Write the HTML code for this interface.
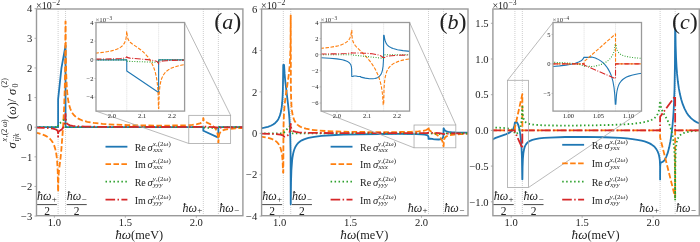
<!DOCTYPE html>
<html><head><meta charset="utf-8"><title>SHG conductivity</title>
<style>html,body{margin:0;padding:0;background:#fff;overflow:hidden}svg{display:block;filter:blur(0.3px)}text{font-family:"Liberation Serif",serif;fill:#222}</style>
</head><body>
<svg xmlns="http://www.w3.org/2000/svg" width="700" height="242" viewBox="0 0 700 242" font-family="Liberation Serif, serif"><clipPath id="clipa"><rect x="36.5" y="9" width="206.4" height="206.7"/></clipPath>
<line x1="58.12" y1="9" x2="58.12" y2="215.7" stroke="#c2c2c2" stroke-width="0.9" stroke-dasharray="0.9,1.1"/>
<line x1="65.54" y1="9" x2="65.54" y2="215.7" stroke="#c2c2c2" stroke-width="0.9" stroke-dasharray="0.9,1.1"/>
<line x1="203.32" y1="9" x2="203.32" y2="215.7" stroke="#c2c2c2" stroke-width="0.9" stroke-dasharray="0.9,1.1"/>
<line x1="218.37" y1="9" x2="218.37" y2="215.7" stroke="#c2c2c2" stroke-width="0.9" stroke-dasharray="0.9,1.1"/>
<path d="M35.08 127.2L58.11 127.2L58.12 99.05L61.46 67.91L65.54 45.73L65.54 127.2L203.31 127.2L203.32 130.76L218.35 137.56L218.37 127.2L244.32 127.2" fill="none" stroke="#1f77b4" stroke-width="1.8"  stroke-linecap="butt" stroke-linejoin="round" clip-path="url(#clipa)"/>
<path d="M35.08 132.53L38.99 133.39L42.34 134.4L45.27 135.62L47.64 136.99L49.74 138.65L51.41 140.49L52.95 142.85L54.13 145.39L55.18 148.6L56.02 152.3L56.64 156.24L57.14 160.93L57.75 171.93L58.07 191.78L58.17 191.79L58.34 181.08L58.67 174.24L59.1 169.66L60.63 157.25L61.32 150.03L63.11 126.54L64.11 108L64.71 90.86L65.09 72.37L65.47 21.42L65.61 21.42L65.62 21.65L65.8 52.16L66.19 73.08L66.8 86.87L67.19 92.03L67.74 97.23L68.41 101.55L69.21 105.26L70.12 108.27L71.23 110.97L72.49 113.19L74.03 115.19L75.84 116.92L77.93 118.38L79.89 119.41L81.98 120.28L84.49 121.09L87.29 121.8L93.99 122.98L102.5 123.89L113.81 124.62L128.04 125.14L145.77 125.48L164.34 125.59L176.48 125.49L185.69 125.23L192.39 124.8L197 124.18L199.94 123.38L201.05 122.85L201.89 122.23L202.44 121.58L202.86 120.75L203.14 119.64L203.27 118.18L203.38 118.16L203.69 120.12L204.03 120.79L204.48 121.28L205.65 122.02L209.98 124.06L212.07 125.34L214.17 127.13L215.84 129.28L216.96 131.62L217.72 134.53L218.1 137.75L218.31 142.61L218.43 142.61L218.73 137.15L219.33 134.25L219.85 133.07L220.45 132.19L221.23 131.41L222.26 130.72L223.52 130.14L225.2 129.62L229.38 128.86L235.53 128.31L244.32 127.94" fill="none" stroke="#ff7f0e" stroke-width="1.8" stroke-dasharray="5.55,2.4" stroke-linecap="butt" stroke-linejoin="round" clip-path="url(#clipa)"/>
<path d="M35.08 127.2L58.11 127.2L58.12 124.83L65.53 118.32L65.54 127.2L203.31 127.2L203.32 127.64L218.35 128L218.37 127.2L244.32 127.2" fill="none" stroke="#2ca02c" stroke-width="1.8" stroke-dasharray="1.5,2.47" stroke-linecap="butt" stroke-linejoin="round" clip-path="url(#clipa)"/>
<path d="M35.08 127.67L43.46 127.89L49.18 128.2L53.09 128.67L55.6 129.33L56.44 129.74L57.05 130.2L57.52 130.78L57.81 131.41L58.07 133.03L58.12 136.68L58.17 133.09L58.45 131.84L58.99 131.27L61.23 129.78L62.42 128.62L63.56 126.96L64.39 124.99L64.89 123.05L65.23 120.66L65.51 113.87L65.71 118.38L65.97 120.68L66.44 122.41L67.19 123.64L68.41 124.62L70.12 125.29L72.65 125.81L76.26 126.19L84.91 126.58L99.15 126.81L159.73 127.01L196.72 126.88L201.84 126.68L202.82 126.52L203.39 126.22L203.79 126.49L204.82 126.66L213.19 127.14L216.4 127.46L217.86 127.84L218.18 128.11L218.33 128.5L218.65 128.03L219.19 127.77L222.04 127.46L229.24 127.3L244.32 127.22" fill="none" stroke="#d62728" stroke-width="1.8" stroke-dasharray="9.6,2.4,1.5,2.4" stroke-linecap="butt" stroke-linejoin="round" clip-path="url(#clipa)"/>
<rect x="36.5" y="9" width="206.4" height="206.7" fill="none" stroke="#9a9a9a" stroke-width="1.4"/>
<line x1="34.5" y1="8.68" x2="36.5" y2="8.68" stroke="#9a9a9a" stroke-width="0.8"/>
<text x="32.2" y="12.38" font-size="10.6" text-anchor="end" style="" >4</text>
<line x1="34.5" y1="38.31" x2="36.5" y2="38.31" stroke="#9a9a9a" stroke-width="0.8"/>
<text x="32.2" y="42.01" font-size="10.6" text-anchor="end" style="" >3</text>
<line x1="34.5" y1="67.94" x2="36.5" y2="67.94" stroke="#9a9a9a" stroke-width="0.8"/>
<text x="32.2" y="71.64" font-size="10.6" text-anchor="end" style="" >2</text>
<line x1="34.5" y1="97.57" x2="36.5" y2="97.57" stroke="#9a9a9a" stroke-width="0.8"/>
<text x="32.2" y="101.27" font-size="10.6" text-anchor="end" style="" >1</text>
<line x1="34.5" y1="127.2" x2="36.5" y2="127.2" stroke="#9a9a9a" stroke-width="0.8"/>
<text x="32.2" y="130.9" font-size="10.6" text-anchor="end" style="" >0</text>
<line x1="34.5" y1="156.83" x2="36.5" y2="156.83" stroke="#9a9a9a" stroke-width="0.8"/>
<text x="32.2" y="160.53" font-size="10.6" text-anchor="end" style="" >&#8722;1</text>
<line x1="34.5" y1="186.46" x2="36.5" y2="186.46" stroke="#9a9a9a" stroke-width="0.8"/>
<text x="32.2" y="190.16" font-size="10.6" text-anchor="end" style="" >&#8722;2</text>
<line x1="34.5" y1="216.09" x2="36.5" y2="216.09" stroke="#9a9a9a" stroke-width="0.8"/>
<text x="32.2" y="219.79" font-size="10.6" text-anchor="end" style="" >&#8722;3</text>
<line x1="54.4" y1="215.7" x2="54.4" y2="217.7" stroke="#9a9a9a" stroke-width="0.8"/>
<text x="54.4" y="225.9" font-size="10.6" text-anchor="middle" style="" >1.0</text>
<line x1="125.35" y1="215.7" x2="125.35" y2="217.7" stroke="#9a9a9a" stroke-width="0.8"/>
<text x="125.35" y="225.9" font-size="10.6" text-anchor="middle" style="" >1.5</text>
<line x1="196.3" y1="215.7" x2="196.3" y2="217.7" stroke="#9a9a9a" stroke-width="0.8"/>
<text x="196.3" y="225.9" font-size="10.6" text-anchor="middle" style="" >2.0</text>
<text x="36" y="8.8" font-size="10" style="">&#215;10<tspan font-size="7.6" dy="-3.8" dx="0.4">&#8722;2</tspan></text>
<text x="139.2" y="238.5" font-size="12.3" text-anchor="middle"><tspan font-style="italic" font-size="13.2">&#295;&#969;</tspan>(meV)</text>
<text x="241.3" y="29.0" font-size="24" text-anchor="end">(<tspan font-style="italic" font-size="22">a</tspan>)</text>
<text x="47.01" y="200.4" font-size="11.5" text-anchor="middle"><tspan font-style="italic" font-size="12">&#295;&#969;</tspan><tspan font-size="9" dy="1.9" dx="0.3">+</tspan></text>
<line x1="37.1" y1="204.6" x2="56.92" y2="204.6" stroke="#333" stroke-width="0.9"/>
<text x="47.01" y="214.6" font-size="11.5" text-anchor="middle" style="" >2</text>
<text x="76.74" y="200.4" font-size="11.5" text-anchor="middle"><tspan font-style="italic" font-size="12">&#295;&#969;</tspan><tspan font-size="9" dy="1.9" dx="0.3">&#8722;</tspan></text>
<line x1="66.74" y1="204.6" x2="86.74" y2="204.6" stroke="#333" stroke-width="0.9"/>
<text x="76.74" y="214.6" font-size="11.5" text-anchor="middle" style="" >2</text>
<text x="202.32" y="211.5" font-size="11.5" text-anchor="end"><tspan font-style="italic" font-size="12">&#295;&#969;</tspan><tspan font-size="9" dy="1.9" dx="0.3">+</tspan></text>
<text x="219.17" y="211.5" font-size="11.5" text-anchor="start"><tspan font-style="italic" font-size="12">&#295;&#969;</tspan><tspan font-size="9" dy="1.9" dx="0.3">&#8722;</tspan></text>
<clipPath id="iclipa"><rect x="96" y="22.5" width="88.6" height="88.6"/></clipPath>
<rect x="188.79" y="115.34" width="41.84" height="28.14" fill="none" stroke="#a8a8a8" stroke-width="0.8"/>
<line x1="184.6" y1="22.5" x2="230.63" y2="115.34" stroke="#a8a8a8" stroke-width="0.8"/>
<line x1="96" y1="111.1" x2="188.79" y2="143.48" stroke="#a8a8a8" stroke-width="0.8"/>
<rect x="96" y="22.5" width="88.6" height="88.6" fill="#fff" stroke="none"/>
<line x1="126.77" y1="22.5" x2="126.77" y2="111.1" stroke="#c2c2c2" stroke-width="0.7" stroke-dasharray="0.8,1.2"/>
<line x1="158.63" y1="22.5" x2="158.63" y2="111.1" stroke="#c2c2c2" stroke-width="0.7" stroke-dasharray="0.8,1.2"/>
<path d="M95.4 59.85L126.76 59.85L126.77 71.05L158.62 92.5L158.63 59.85L185.2 59.85" fill="none" stroke="#1f77b4" stroke-width="1.1"  stroke-linecap="butt" stroke-linejoin="round" clip-path="url(#iclipa)"/>
<path d="M95.4 53.19L104.33 52.19L108.04 51.58L111.33 50.89L114.21 50.1L116.67 49.24L118.82 48.26L120.68 47.15L122.18 45.95L123.38 44.67L124.39 43.17L125.15 41.58L125.71 39.87L126.12 37.96L126.46 35.11L126.66 31.44L126.89 31.39L127.11 34.85L127.51 37.41L128.15 39.39L129.13 41.07L130.21 42.28L131.7 43.54L137.99 47.81L140.87 49.95L143.15 51.89L145.24 53.94L147.64 56.69L149.8 59.7L151.65 62.89L153.27 66.37L154.53 69.8L155.61 73.6L156.51 77.85L157.16 82.2L157.7 87.42L158.06 92.87L158.5 108.37L158.76 108.37L159.14 95.17L159.5 89.99L159.98 85.85L160.58 82.49L161.36 79.54L162.26 77.14L163.39 74.95L164.83 72.95L166.57 71.2L168.61 69.68L171 68.35L173.82 67.19L177.05 66.18L180.83 65.3L185.2 64.52" fill="none" stroke="#ff7f0e" stroke-width="1.1" stroke-dasharray="3.52,1.52" stroke-linecap="butt" stroke-linejoin="round" clip-path="url(#iclipa)"/>
<path d="M95.4 59.85L126.76 59.85L126.77 61.25L158.62 62.37L158.63 59.85L185.2 59.85" fill="none" stroke="#2ca02c" stroke-width="1.1" stroke-dasharray="0.95,1.57" stroke-linecap="butt" stroke-linejoin="round" clip-path="url(#iclipa)"/>
<path d="M95.4 59.09L111.63 58.87L120.86 58.49L123.44 58.23L125.15 57.9L126.06 57.52L126.43 57.19L126.64 56.77L126.91 56.77L127.21 57.27L127.75 57.62L130.03 58.15L147.58 59.64L151.53 60.12L154.41 60.64L156.33 61.2L157.55 61.87L158.23 62.71L158.54 63.96L158.71 63.96L159.1 62.64L159.74 61.99L161 61.44L163.04 61.02L166.21 60.69L170.7 60.44L185.2 60.11" fill="none" stroke="#d62728" stroke-width="1.1" stroke-dasharray="6.08,1.52,0.95,1.52" stroke-linecap="butt" stroke-linejoin="round" clip-path="url(#iclipa)"/>
<rect x="96" y="22.5" width="88.6" height="88.6" fill="none" stroke="#9a9a9a" stroke-width="1.3"/>
<line x1="94.5" y1="22.53" x2="96" y2="22.53" stroke="#9a9a9a" stroke-width="0.6"/>
<text x="93.5" y="24.83" font-size="6.5" text-anchor="end" style="" >4</text>
<line x1="94.5" y1="41.19" x2="96" y2="41.19" stroke="#9a9a9a" stroke-width="0.6"/>
<text x="93.5" y="43.49" font-size="6.5" text-anchor="end" style="" >2</text>
<line x1="94.5" y1="59.85" x2="96" y2="59.85" stroke="#9a9a9a" stroke-width="0.6"/>
<text x="93.5" y="62.15" font-size="6.5" text-anchor="end" style="" >0</text>
<line x1="94.5" y1="78.51" x2="96" y2="78.51" stroke="#9a9a9a" stroke-width="0.6"/>
<text x="93.5" y="80.81" font-size="6.5" text-anchor="end" style="" >&#8722;2</text>
<line x1="94.5" y1="97.17" x2="96" y2="97.17" stroke="#9a9a9a" stroke-width="0.6"/>
<text x="93.5" y="99.47" font-size="6.5" text-anchor="end" style="" >&#8722;4</text>
<line x1="111.9" y1="111.1" x2="111.9" y2="112.6" stroke="#9a9a9a" stroke-width="0.6"/>
<text x="111.9" y="118.4" font-size="6.5" text-anchor="middle" style="" >2.0</text>
<line x1="141.95" y1="111.1" x2="141.95" y2="112.6" stroke="#9a9a9a" stroke-width="0.6"/>
<text x="141.95" y="118.4" font-size="6.5" text-anchor="middle" style="" >2.1</text>
<line x1="172" y1="111.1" x2="172" y2="112.6" stroke="#9a9a9a" stroke-width="0.6"/>
<text x="172" y="118.4" font-size="6.5" text-anchor="middle" style="" >2.2</text>
<text x="95.4" y="22.2" font-size="6.9" style="fill:#333">&#215;10<tspan font-size="5.2" dy="-2.5" dx="0.3">&#8722;3</tspan></text>
<line x1="105.5" y1="146.7" x2="127.4" y2="146.7" stroke="#1f77b4" stroke-width="1.8"  stroke-linecap="butt"/>
<text x="134.7" y="150.6" font-size="10">Re<tspan dx="1.8" font-style="italic" font-size="10.5">&#963;</tspan><tspan font-size="7" dy="-5.1" font-style="italic">x</tspan><tspan font-size="7" font-style="normal" dy="0">,(2</tspan><tspan font-size="7" font-style="italic">&#969;</tspan><tspan font-size="7">)</tspan></text>
<text x="153.2" y="151.9" font-size="7" font-style="italic">xxx</text>
<line x1="105.5" y1="164.2" x2="127.4" y2="164.2" stroke="#ff7f0e" stroke-width="1.8" stroke-dasharray="5.55,2.4" stroke-linecap="butt"/>
<text x="134.7" y="168.1" font-size="10">Im<tspan dx="1.8" font-style="italic" font-size="10.5">&#963;</tspan><tspan font-size="7" dy="-5.1" font-style="italic">x</tspan><tspan font-size="7" font-style="normal" dy="0">,(2</tspan><tspan font-size="7" font-style="italic">&#969;</tspan><tspan font-size="7">)</tspan></text>
<text x="153.2" y="169.4" font-size="7" font-style="italic">xxx</text>
<line x1="105.5" y1="181.7" x2="127.4" y2="181.7" stroke="#2ca02c" stroke-width="1.8" stroke-dasharray="1.5,2.47" stroke-linecap="butt"/>
<text x="134.7" y="185.6" font-size="10">Re<tspan dx="1.8" font-style="italic" font-size="10.5">&#963;</tspan><tspan font-size="7" dy="-5.1" font-style="italic">y</tspan><tspan font-size="7" font-style="normal" dy="0">,(2</tspan><tspan font-size="7" font-style="italic">&#969;</tspan><tspan font-size="7">)</tspan></text>
<text x="153.2" y="186.9" font-size="7" font-style="italic">yyy</text>
<line x1="105.5" y1="199.7" x2="127.4" y2="199.7" stroke="#d62728" stroke-width="1.8" stroke-dasharray="9.6,2.4,1.5,2.4" stroke-linecap="butt"/>
<text x="134.7" y="203.6" font-size="10">Im<tspan dx="1.8" font-style="italic" font-size="10.5">&#963;</tspan><tspan font-size="7" dy="-5.1" font-style="italic">y</tspan><tspan font-size="7" font-style="normal" dy="0">,(2</tspan><tspan font-size="7" font-style="italic">&#969;</tspan><tspan font-size="7">)</tspan></text>
<text x="153.2" y="204.9" font-size="7" font-style="italic">yyy</text>
<clipPath id="clipb"><rect x="261.6" y="9" width="206.4" height="206.7"/></clipPath>
<line x1="283.32" y1="9" x2="283.32" y2="215.7" stroke="#c2c2c2" stroke-width="0.9" stroke-dasharray="0.9,1.1"/>
<line x1="290.74" y1="9" x2="290.74" y2="215.7" stroke="#c2c2c2" stroke-width="0.9" stroke-dasharray="0.9,1.1"/>
<line x1="428.52" y1="9" x2="428.52" y2="215.7" stroke="#c2c2c2" stroke-width="0.9" stroke-dasharray="0.9,1.1"/>
<line x1="443.57" y1="9" x2="443.57" y2="215.7" stroke="#c2c2c2" stroke-width="0.9" stroke-dasharray="0.9,1.1"/>
<path d="M260.18 128.52L264.37 127.74L267.86 126.83L270.79 125.74L273.16 124.51L275.26 122.97L276.93 121.21L278.33 119.14L279.58 116.43L280.42 113.84L281.12 110.8L281.71 107.14L282.24 102.19L282.65 95.75L282.93 88.26L283.25 64.99L284.08 64.99L284.61 73.63L285.31 81.54L288.02 104.02L288.87 111.98L289.48 119.5L289.91 126.83L290.33 138.48L290.58 153.28L290.73 204.3L291.02 182.31L291.39 170.52L292.1 160.58L292.56 156.97L293.12 153.84L293.82 151.01L294.66 148.56L295.64 146.46L296.89 144.49L298.29 142.9L299.96 141.49L301.78 140.35L304.01 139.31L306.1 138.56L308.48 137.9L314.2 136.79L321.6 135.91L330.95 135.23L343.37 134.69L359.15 134.29L379.11 134.02L399.21 133.94L415.96 134.13L421.12 134.35L424.61 134.69L426.85 135.17L427.54 135.47L428.02 135.84L428.28 136.24L428.44 136.8L428.52 138.89L429.89 138.76L432.71 138.89L432.85 139.08L434.94 139.34L438.57 139.5L440.25 139.3L441.5 138.89L442.41 138.23L442.97 137.38L443.3 136.26L443.48 134.78L443.56 128.31L443.79 128.31L444.03 129.21L444.4 129.93L445.13 130.67L446.43 131.31L448.48 131.8L451.41 132.16L455.6 132.42L469.42 132.73" fill="none" stroke="#1f77b4" stroke-width="1.8"  stroke-linecap="butt" stroke-linejoin="round" clip-path="url(#clipb)"/>
<path d="M260.18 136.5L263.95 137.03L267.16 137.64L269.95 138.36L272.32 139.21L274.42 140.24L276.09 141.38L277.49 142.69L278.75 144.32L279.72 146.09L280.56 148.2L281.26 150.7L281.82 153.61L282.25 156.92L282.61 161.1L283.08 172.54L283.31 172.63L283.44 133.69L283.63 123.2L283.91 115.39L284.38 107.91L285.03 101.24L285.86 94.72L288.52 76.76L289.26 70.26L289.84 63.19L290.27 54.53L290.52 45.32L290.72 15.31L290.84 82.8L291.07 96.91L291.5 105.89L291.9 110.15L292.43 113.83L292.98 116.45L293.82 119.16L294.8 121.31L295.91 123.04L297.31 124.59L298.99 125.9L300.38 126.71L302.06 127.48L305.96 128.7L310.99 129.67L317.55 130.44L325.79 131.03L336.39 131.48L349.79 131.81L365.99 132.02L384.27 132.1L399.91 132.02L410.93 131.79L418.47 131.4L423.22 130.83L424.85 130.47L426.15 130.02L427.12 129.48L427.76 128.87L428.19 128.07L428.42 127.03L428.54 127.03L428.79 129.24L429.08 129.89L429.59 130.49L430.75 131.31L434.8 133.51L437.04 134.91L439.13 136.58L440.7 138.26L441.82 139.96L442.58 141.77L443.06 143.65L443.38 146.13L443.6 146.13L443.81 141.62L444.33 139.01L444.72 138.13L445.31 137.3L446.11 136.6L447.09 136.04L448.34 135.55L449.88 135.15L454.2 134.51L460.49 134.08L469.42 133.78" fill="none" stroke="#ff7f0e" stroke-width="1.8" stroke-dasharray="5.55,2.4" stroke-linecap="butt" stroke-linejoin="round" clip-path="url(#clipb)"/>
<path d="M260.18 133.3L283.31 133.3L290.73 125.03L290.74 133.3L428.51 133.3L443.55 134.23L443.57 133.3L469.42 133.3" fill="none" stroke="#2ca02c" stroke-width="1.8" stroke-dasharray="1.5,2.47" stroke-linecap="butt" stroke-linejoin="round" clip-path="url(#clipb)"/>
<path d="M260.18 133.64L271.77 133.89L278.33 134.31L280.56 134.64L282.06 135.06L282.89 135.48L283.58 136.23L284.22 136.55L285.03 136.65L285.86 136.51L286.98 135.95L287.96 135.08L288.8 133.9L289.48 132.44L289.97 130.81L290.31 128.99L290.67 123.99L290.82 123.99L291.02 126.89L291.39 128.7L292 129.96L292.8 130.78L294.1 131.46L295.91 131.94L298.57 132.31L302.2 132.57L309.45 132.82L320.62 132.98L363.47 133.14L418.19 133.1L426.85 132.98L428.3 132.89L428.52 132.73L428.73 132.85L434.52 132.9L439.27 133.16L441.92 133.52L443.2 134.02L444.03 134.02L445.83 133.65L449.32 133.48L469.42 133.32" fill="none" stroke="#d62728" stroke-width="1.8" stroke-dasharray="9.6,2.4,1.5,2.4" stroke-linecap="butt" stroke-linejoin="round" clip-path="url(#clipb)"/>
<rect x="261.6" y="9" width="206.4" height="206.7" fill="none" stroke="#9a9a9a" stroke-width="1.4"/>
<line x1="259.6" y1="9.1" x2="261.6" y2="9.1" stroke="#9a9a9a" stroke-width="0.8"/>
<text x="257.3" y="12.8" font-size="10.6" text-anchor="end" style="" >6</text>
<line x1="259.6" y1="50.5" x2="261.6" y2="50.5" stroke="#9a9a9a" stroke-width="0.8"/>
<text x="257.3" y="54.2" font-size="10.6" text-anchor="end" style="" >4</text>
<line x1="259.6" y1="91.9" x2="261.6" y2="91.9" stroke="#9a9a9a" stroke-width="0.8"/>
<text x="257.3" y="95.6" font-size="10.6" text-anchor="end" style="" >2</text>
<line x1="259.6" y1="133.3" x2="261.6" y2="133.3" stroke="#9a9a9a" stroke-width="0.8"/>
<text x="257.3" y="137" font-size="10.6" text-anchor="end" style="" >0</text>
<line x1="259.6" y1="174.7" x2="261.6" y2="174.7" stroke="#9a9a9a" stroke-width="0.8"/>
<text x="257.3" y="178.4" font-size="10.6" text-anchor="end" style="" >&#8722;2</text>
<line x1="259.6" y1="216.1" x2="261.6" y2="216.1" stroke="#9a9a9a" stroke-width="0.8"/>
<text x="257.3" y="219.8" font-size="10.6" text-anchor="end" style="" >&#8722;4</text>
<line x1="279.6" y1="215.7" x2="279.6" y2="217.7" stroke="#9a9a9a" stroke-width="0.8"/>
<text x="279.6" y="225.9" font-size="10.6" text-anchor="middle" style="" >1.0</text>
<line x1="350.55" y1="215.7" x2="350.55" y2="217.7" stroke="#9a9a9a" stroke-width="0.8"/>
<text x="350.55" y="225.9" font-size="10.6" text-anchor="middle" style="" >1.5</text>
<line x1="421.5" y1="215.7" x2="421.5" y2="217.7" stroke="#9a9a9a" stroke-width="0.8"/>
<text x="421.5" y="225.9" font-size="10.6" text-anchor="middle" style="" >2.0</text>
<text x="261.1" y="8.8" font-size="10" style="">&#215;10<tspan font-size="7.6" dy="-3.8" dx="0.4">&#8722;2</tspan></text>
<text x="364.3" y="238.5" font-size="12.3" text-anchor="middle"><tspan font-style="italic" font-size="13.2">&#295;&#969;</tspan>(meV)</text>
<text x="466.4" y="29.0" font-size="24" text-anchor="end">(<tspan font-style="italic" font-size="22">b</tspan>)</text>
<text x="272.16" y="200.4" font-size="11.5" text-anchor="middle"><tspan font-style="italic" font-size="12">&#295;&#969;</tspan><tspan font-size="9" dy="1.9" dx="0.3">+</tspan></text>
<line x1="262.2" y1="204.6" x2="282.12" y2="204.6" stroke="#333" stroke-width="0.9"/>
<text x="272.16" y="214.6" font-size="11.5" text-anchor="middle" style="" >2</text>
<text x="301.94" y="200.4" font-size="11.5" text-anchor="middle"><tspan font-style="italic" font-size="12">&#295;&#969;</tspan><tspan font-size="9" dy="1.9" dx="0.3">&#8722;</tspan></text>
<line x1="291.94" y1="204.6" x2="311.94" y2="204.6" stroke="#333" stroke-width="0.9"/>
<text x="301.94" y="214.6" font-size="11.5" text-anchor="middle" style="" >2</text>
<text x="427.52" y="211.5" font-size="11.5" text-anchor="end"><tspan font-style="italic" font-size="12">&#295;&#969;</tspan><tspan font-size="9" dy="1.9" dx="0.3">+</tspan></text>
<text x="444.37" y="211.5" font-size="11.5" text-anchor="start"><tspan font-style="italic" font-size="12">&#295;&#969;</tspan><tspan font-size="9" dy="1.9" dx="0.3">&#8722;</tspan></text>
<clipPath id="iclipb"><rect x="321.1" y="22.5" width="88.5" height="88.6"/></clipPath>
<rect x="414.04" y="125.02" width="41.79" height="22.78" fill="none" stroke="#a8a8a8" stroke-width="0.8"/>
<line x1="409.6" y1="22.5" x2="455.83" y2="125.02" stroke="#a8a8a8" stroke-width="0.8"/>
<line x1="321.1" y1="111.1" x2="414.04" y2="147.8" stroke="#a8a8a8" stroke-width="0.8"/>
<rect x="321.1" y="22.5" width="88.5" height="88.6" fill="#fff" stroke="none"/>
<line x1="351.77" y1="22.5" x2="351.77" y2="111.1" stroke="#c2c2c2" stroke-width="0.7" stroke-dasharray="0.8,1.2"/>
<line x1="383.63" y1="22.5" x2="383.63" y2="111.1" stroke="#c2c2c2" stroke-width="0.7" stroke-dasharray="0.8,1.2"/>
<path d="M320.5 57.7L329.71 58.2L336.9 58.9L342.34 59.81L344.5 60.37L346.29 60.99L348.03 61.84L349.34 62.8L350.36 63.99L351.02 65.32L351.41 66.81L351.64 68.79L351.77 76.44L352.94 76.44L353.65 76.06L354.67 75.93L356.04 76.05L357.96 76.44L360.77 76.44L360.83 77.15L365.26 78.16L369.45 78.77L372.92 78.81L374.77 78.57L376.45 78.1L377.89 77.43L379.14 76.53L380.16 75.47L381.06 74.1L381.78 72.51L382.36 70.58L383.07 66.23L383.44 60.45L383.59 51.97L383.63 35.3L384.11 35.3L384.83 39.76L385.39 41.6L386.08 43.13L386.8 44.29L387.7 45.35L388.72 46.26L389.91 47.09L391.41 47.87L393.15 48.57L397.45 49.74L403.02 50.65L410.2 51.36" fill="none" stroke="#1f77b4" stroke-width="1.1"  stroke-linecap="butt" stroke-linejoin="round" clip-path="url(#iclipb)"/>
<path d="M320.5 48.4L329 47.5L335.76 46.35L338.57 45.67L341.02 44.91L343.12 44.09L344.97 43.15L346.47 42.16L347.75 41.06L348.8 39.85L349.7 38.44L350.3 37.12L350.79 35.59L351.26 33.2L351.55 30.31L351.81 30.31L351.98 35.55L352.33 38.92L352.99 41.57L354.01 43.74L355.03 45.24L356.4 46.87L365.08 55.52L367.65 58.37L369.93 61.14L372.26 64.35L374.3 67.55L376.09 70.84L377.65 74.19L378.84 77.27L379.86 80.4L380.74 83.7L381.48 87.22L382.08 90.93L382.55 94.96L383.21 104.61L383.7 104.61L384.03 89.31L384.34 84.08L384.79 79.71L385.31 76.6L386.03 73.66L386.86 71.3L387.94 69.13L389.38 67.08L391.05 65.37L393.09 63.86L395.54 62.52L398.41 61.37L401.76 60.37L405.65 59.51L410.2 58.76" fill="none" stroke="#ff7f0e" stroke-width="1.1" stroke-dasharray="3.52,1.52" stroke-linecap="butt" stroke-linejoin="round" clip-path="url(#iclipb)"/>
<path d="M320.5 54.7L351.76 54.7L351.77 54.94L383.62 58.32L383.63 54.7L410.2 54.7" fill="none" stroke="#2ca02c" stroke-width="1.1" stroke-dasharray="0.95,1.57" stroke-linecap="butt" stroke-linejoin="round" clip-path="url(#iclipb)"/>
<path d="M320.5 54.01L336.72 53.83L346.59 53.54L351.08 53.15L351.68 52.93L351.77 52.47L351.84 52.86L352.27 52.96L359.04 52.97L364.9 53.18L372.08 53.8L377.53 54.74L379.5 55.31L381 55.94L382.08 56.65L382.85 57.52L384.62 57.52L385.55 56.87L386.86 56.39L388.78 56L391.35 55.69L398.59 55.28L410.2 55.01" fill="none" stroke="#d62728" stroke-width="1.1" stroke-dasharray="6.08,1.52,0.95,1.52" stroke-linecap="butt" stroke-linejoin="round" clip-path="url(#iclipb)"/>
<rect x="321.1" y="22.5" width="88.5" height="88.6" fill="none" stroke="#9a9a9a" stroke-width="1.3"/>
<line x1="319.6" y1="22.5" x2="321.1" y2="22.5" stroke="#9a9a9a" stroke-width="0.6"/>
<text x="318.6" y="24.8" font-size="6.5" text-anchor="end" style="" >4</text>
<line x1="319.6" y1="38.6" x2="321.1" y2="38.6" stroke="#9a9a9a" stroke-width="0.6"/>
<text x="318.6" y="40.9" font-size="6.5" text-anchor="end" style="" >2</text>
<line x1="319.6" y1="54.7" x2="321.1" y2="54.7" stroke="#9a9a9a" stroke-width="0.6"/>
<text x="318.6" y="57" font-size="6.5" text-anchor="end" style="" >0</text>
<line x1="319.6" y1="70.8" x2="321.1" y2="70.8" stroke="#9a9a9a" stroke-width="0.6"/>
<text x="318.6" y="73.1" font-size="6.5" text-anchor="end" style="" >&#8722;2</text>
<line x1="319.6" y1="86.9" x2="321.1" y2="86.9" stroke="#9a9a9a" stroke-width="0.6"/>
<text x="318.6" y="89.2" font-size="6.5" text-anchor="end" style="" >&#8722;4</text>
<line x1="319.6" y1="103" x2="321.1" y2="103" stroke="#9a9a9a" stroke-width="0.6"/>
<text x="318.6" y="105.3" font-size="6.5" text-anchor="end" style="" >&#8722;6</text>
<line x1="336.9" y1="111.1" x2="336.9" y2="112.6" stroke="#9a9a9a" stroke-width="0.6"/>
<text x="336.9" y="118.4" font-size="6.5" text-anchor="middle" style="" >2.0</text>
<line x1="366.95" y1="111.1" x2="366.95" y2="112.6" stroke="#9a9a9a" stroke-width="0.6"/>
<text x="366.95" y="118.4" font-size="6.5" text-anchor="middle" style="" >2.1</text>
<line x1="397" y1="111.1" x2="397" y2="112.6" stroke="#9a9a9a" stroke-width="0.6"/>
<text x="397" y="118.4" font-size="6.5" text-anchor="middle" style="" >2.2</text>
<text x="320.5" y="22.2" font-size="6.9" style="fill:#333">&#215;10<tspan font-size="5.2" dy="-2.5" dx="0.3">&#8722;3</tspan></text>
<line x1="330.6" y1="146.7" x2="352.5" y2="146.7" stroke="#1f77b4" stroke-width="1.8"  stroke-linecap="butt"/>
<text x="360" y="150.6" font-size="10">Re<tspan dx="1.8" font-style="italic" font-size="10.5">&#963;</tspan><tspan font-size="7" dy="-5.1" font-style="italic">y</tspan><tspan font-size="7" font-style="normal" dy="0">,(2</tspan><tspan font-size="7" font-style="italic">&#969;</tspan><tspan font-size="7">)</tspan></text>
<text x="378.5" y="151.9" font-size="7" font-style="italic">xxx</text>
<line x1="330.6" y1="164.2" x2="352.5" y2="164.2" stroke="#ff7f0e" stroke-width="1.8" stroke-dasharray="5.55,2.4" stroke-linecap="butt"/>
<text x="360" y="168.1" font-size="10">Im<tspan dx="1.8" font-style="italic" font-size="10.5">&#963;</tspan><tspan font-size="7" dy="-5.1" font-style="italic">y</tspan><tspan font-size="7" font-style="normal" dy="0">,(2</tspan><tspan font-size="7" font-style="italic">&#969;</tspan><tspan font-size="7">)</tspan></text>
<text x="378.5" y="169.4" font-size="7" font-style="italic">xxx</text>
<line x1="330.6" y1="181.7" x2="352.5" y2="181.7" stroke="#2ca02c" stroke-width="1.8" stroke-dasharray="1.5,2.47" stroke-linecap="butt"/>
<text x="360" y="185.6" font-size="10">Re<tspan dx="1.8" font-style="italic" font-size="10.5">&#963;</tspan><tspan font-size="7" dy="-5.1" font-style="italic">x</tspan><tspan font-size="7" font-style="normal" dy="0">,(2</tspan><tspan font-size="7" font-style="italic">&#969;</tspan><tspan font-size="7">)</tspan></text>
<text x="378.5" y="186.9" font-size="7" font-style="italic">yyy</text>
<line x1="330.6" y1="199.7" x2="352.5" y2="199.7" stroke="#d62728" stroke-width="1.8" stroke-dasharray="9.6,2.4,1.5,2.4" stroke-linecap="butt"/>
<text x="360" y="203.6" font-size="10">Im<tspan dx="1.8" font-style="italic" font-size="10.5">&#963;</tspan><tspan font-size="7" dy="-5.1" font-style="italic">x</tspan><tspan font-size="7" font-style="normal" dy="0">,(2</tspan><tspan font-size="7" font-style="italic">&#969;</tspan><tspan font-size="7">)</tspan></text>
<text x="378.5" y="204.9" font-size="7" font-style="italic">yyy</text>
<clipPath id="clipc"><rect x="492.9" y="9" width="206.4" height="206.7"/></clipPath>
<line x1="514.92" y1="9" x2="514.92" y2="215.7" stroke="#c2c2c2" stroke-width="0.9" stroke-dasharray="0.9,1.1"/>
<line x1="522.34" y1="9" x2="522.34" y2="215.7" stroke="#c2c2c2" stroke-width="0.9" stroke-dasharray="0.9,1.1"/>
<line x1="660.12" y1="9" x2="660.12" y2="215.7" stroke="#c2c2c2" stroke-width="0.9" stroke-dasharray="0.9,1.1"/>
<line x1="675.17" y1="9" x2="675.17" y2="215.7" stroke="#c2c2c2" stroke-width="0.9" stroke-dasharray="0.9,1.1"/>
<path d="M491.48 140.19L493.44 138.97L495.67 137.9L498.46 136.81L506.28 134.14L508.51 133.14L510.21 132.14L512.14 130.45L512.86 129.53L513.54 128.34L514.41 125.79L514.85 122.55L516.33 122.55L516.4 121.96L517.03 122.5L517.58 123.37L518.14 124.62L519.26 128.47L520.24 133.89L520.97 140.23L521.51 147.35L521.91 156.39L522.27 179.31L522.42 179.31L522.58 167L522.89 158.83L523.4 152.97L524.14 148.87L524.7 147.01L525.26 145.67L526.01 144.33L526.94 143.15L527.91 142.23L529.17 141.35L530.7 140.56L532.38 139.93L535.45 139.12L539.22 138.48L543.96 137.95L549.69 137.54L565.32 137L585.14 136.9L604.54 137.24L620.46 137.97L626.88 138.47L632.46 139.07L637.35 139.79L641.53 140.63L644.61 141.44L647.26 142.35L649.63 143.39L651.72 144.6L653.54 145.96L655.07 147.47L656.33 149.11L657.48 151.12L658.29 153.03L658.98 155.35L659.47 157.78L659.82 160.51L660.08 166.18L660.12 179.46L660.16 167.14L660.41 163.56L660.83 162.7L662.99 161.69L663.8 160.98L664.57 160.02L666.15 157.12L667.64 153.15L669.14 147.61L670.43 141.18L671.55 133.84L672.52 125.26L673.22 117.06L673.78 108.25L674.52 89.45L674.94 64.52L675.12 29.37L675.39 29.37L675.67 46.05L676.07 58.15L676.53 66.86L677.06 73.92L677.83 81.25L678.8 88.14L679.92 94.08L681.18 99.27L682.71 104.21L684.53 108.7L686.48 112.4L688.71 115.64L691.23 118.37L694.02 120.61L697.09 122.41L700.72 123.94" fill="none" stroke="#1f77b4" stroke-width="1.8"  stroke-linecap="butt" stroke-linejoin="round" clip-path="url(#clipc)"/>
<path d="M491.48 130.4L514.91 130.4L514.92 127.54L522.34 94.14L522.34 130.4L660.11 130.4L660.12 137.54L675.16 197.5L675.17 130.4L700.72 130.4" fill="none" stroke="#ff7f0e" stroke-width="1.8" stroke-dasharray="5.55,2.4" stroke-linecap="butt" stroke-linejoin="round" clip-path="url(#clipc)"/>
<path d="M491.48 127.35L502.79 127.86L506.56 128.25L509.37 128.76L511.58 129.47L513.26 130.46L514.27 131.67L514.81 133.26L516.33 133.26L516.4 133.74L517.03 133.45L518.14 132.37L519.26 130.44L520.24 127.75L520.93 124.82L521.47 121.43L521.83 117.72L522.26 106.84L522.44 106.84L522.65 112.63L523.03 116.42L523.59 118.9L524.4 120.73L524.98 121.53L525.68 122.21L527.35 123.24L529.73 124.02L532.8 124.57L540.48 125.19L552.62 125.51L571.74 125.57L593.66 125.35L609.99 124.97L622.97 124.44L633.02 123.73L640.7 122.81L646 121.77L650.19 120.45L651.86 119.7L653.4 118.81L654.8 117.77L655.91 116.67L656.75 115.61L657.59 114.22L658.23 112.8L658.76 111.18L659.54 107.07L659.96 101.13L660.3 101.13L660.72 105.85L661.49 109.1L662.77 111.97L667.24 119.63L669.45 124.56L670.71 128.19L671.69 131.71L672.52 135.52L673.22 139.63L674.2 148.52L674.8 160.18L675.07 175.16L675.16 200.37L675.26 169.04L675.56 154.62L675.87 149.12L676.29 144.99L676.85 141.76L677.6 139.15L678.55 137.11L679.87 135.39L681.46 134.14L683.55 133.11L686.34 132.25L689.97 131.5L694.86 130.8L700.72 130.17" fill="none" stroke="#2ca02c" stroke-width="1.8" stroke-dasharray="1.5,2.47" stroke-linecap="butt" stroke-linejoin="round" clip-path="url(#clipc)"/>
<path d="M491.48 130.4L514.91 130.4L514.92 131.83L522.33 148.24L522.34 130.4L660.11 130.4L660.12 116.83L675.16 96.14L675.17 130.4L700.72 130.4" fill="none" stroke="#d62728" stroke-width="1.8" stroke-dasharray="9.6,2.4,1.5,2.4" stroke-linecap="butt" stroke-linejoin="round" clip-path="url(#clipc)"/>
<rect x="492.9" y="9" width="206.4" height="206.7" fill="none" stroke="#9a9a9a" stroke-width="1.4"/>
<line x1="490.9" y1="23.3" x2="492.9" y2="23.3" stroke="#9a9a9a" stroke-width="0.8"/>
<text x="488.6" y="27" font-size="10.6" text-anchor="end" style="" >1.5</text>
<line x1="490.9" y1="59" x2="492.9" y2="59" stroke="#9a9a9a" stroke-width="0.8"/>
<text x="488.6" y="62.7" font-size="10.6" text-anchor="end" style="" >1.0</text>
<line x1="490.9" y1="94.7" x2="492.9" y2="94.7" stroke="#9a9a9a" stroke-width="0.8"/>
<text x="488.6" y="98.4" font-size="10.6" text-anchor="end" style="" >0.5</text>
<line x1="490.9" y1="130.4" x2="492.9" y2="130.4" stroke="#9a9a9a" stroke-width="0.8"/>
<text x="488.6" y="134.1" font-size="10.6" text-anchor="end" style="" >0.0</text>
<line x1="490.9" y1="166.1" x2="492.9" y2="166.1" stroke="#9a9a9a" stroke-width="0.8"/>
<text x="488.6" y="169.8" font-size="10.6" text-anchor="end" style="" >&#8722;0.5</text>
<line x1="490.9" y1="201.8" x2="492.9" y2="201.8" stroke="#9a9a9a" stroke-width="0.8"/>
<text x="488.6" y="205.5" font-size="10.6" text-anchor="end" style="" >&#8722;1.0</text>
<line x1="511.2" y1="215.7" x2="511.2" y2="217.7" stroke="#9a9a9a" stroke-width="0.8"/>
<text x="511.2" y="225.9" font-size="10.6" text-anchor="middle" style="" >1.0</text>
<line x1="582.15" y1="215.7" x2="582.15" y2="217.7" stroke="#9a9a9a" stroke-width="0.8"/>
<text x="582.15" y="225.9" font-size="10.6" text-anchor="middle" style="" >1.5</text>
<line x1="653.1" y1="215.7" x2="653.1" y2="217.7" stroke="#9a9a9a" stroke-width="0.8"/>
<text x="653.1" y="225.9" font-size="10.6" text-anchor="middle" style="" >2.0</text>
<text x="492.4" y="8.8" font-size="10" style="">&#215;10<tspan font-size="7.6" dy="-3.8" dx="0.4">&#8722;3</tspan></text>
<text x="595.6" y="238.5" font-size="12.3" text-anchor="middle"><tspan font-style="italic" font-size="13.2">&#295;&#969;</tspan>(meV)</text>
<text x="697.7" y="29.0" font-size="24" text-anchor="end">(<tspan font-style="italic" font-size="22">c</tspan>)</text>
<text x="503.61" y="200.4" font-size="11.5" text-anchor="middle"><tspan font-style="italic" font-size="12">&#295;&#969;</tspan><tspan font-size="9" dy="1.9" dx="0.3">+</tspan></text>
<line x1="493.5" y1="204.6" x2="513.72" y2="204.6" stroke="#333" stroke-width="0.9"/>
<text x="503.61" y="214.6" font-size="11.5" text-anchor="middle" style="" >2</text>
<text x="533.54" y="200.4" font-size="11.5" text-anchor="middle"><tspan font-style="italic" font-size="12">&#295;&#969;</tspan><tspan font-size="9" dy="1.9" dx="0.3">&#8722;</tspan></text>
<line x1="523.54" y1="204.6" x2="543.54" y2="204.6" stroke="#333" stroke-width="0.9"/>
<text x="533.54" y="214.6" font-size="11.5" text-anchor="middle" style="" >2</text>
<text x="659.12" y="211.5" font-size="11.5" text-anchor="end"><tspan font-style="italic" font-size="12">&#295;&#969;</tspan><tspan font-size="9" dy="1.9" dx="0.3">+</tspan></text>
<text x="675.97" y="211.5" font-size="11.5" text-anchor="start"><tspan font-style="italic" font-size="12">&#295;&#969;</tspan><tspan font-size="9" dy="1.9" dx="0.3">&#8722;</tspan></text>
<clipPath id="iclipc"><rect x="553" y="22.5" width="88.5" height="88.6"/></clipPath>
<rect x="507.58" y="80.3" width="20.9" height="107.22" fill="none" stroke="#a8a8a8" stroke-width="0.8"/>
<line x1="553" y1="22.5" x2="507.58" y2="80.3" stroke="#a8a8a8" stroke-width="0.8"/>
<line x1="641.5" y1="111.1" x2="528.47" y2="187.52" stroke="#a8a8a8" stroke-width="0.8"/>
<rect x="553" y="22.5" width="88.5" height="88.6" fill="#fff" stroke="none"/>
<line x1="584.1" y1="22.5" x2="584.1" y2="111.1" stroke="#c2c2c2" stroke-width="0.7" stroke-dasharray="0.8,1.2"/>
<line x1="615.53" y1="22.5" x2="615.53" y2="111.1" stroke="#c2c2c2" stroke-width="0.7" stroke-dasharray="0.8,1.2"/>
<path d="M551.8 66.64L559.56 65.9L565.93 65.09L571.14 64.2L575.33 63.19L578.66 62.02L581.15 60.7L582.12 59.95L582.85 59.19L583.39 58.37L583.8 57.41L590.06 57.41L590.12 56.9L591.52 57.08L593.46 57.48L595.4 58.09L597.28 58.89L599.1 59.87L601.04 61.15L602.92 62.69L604.68 64.43L606.26 66.3L607.71 68.36L609.05 70.64L610.21 73.02L611.23 75.56L612.14 78.35L612.87 81.12L614.02 87.41L614.79 95.03L615.26 104.31L615.85 104.31L616.44 95.09L616.93 91.49L617.54 88.57L618.2 86.34L619.05 84.3L620.04 82.55L621.23 80.98L622.75 79.51L624.51 78.23L626.57 77.1L628.94 76.12L631.73 75.23L634.88 74.46L638.52 73.77L642.7 73.16" fill="none" stroke="#1f77b4" stroke-width="1.1"  stroke-linecap="butt" stroke-linejoin="round" clip-path="url(#iclipc)"/>
<path d="M551.8 63.9L584.08 63.9L584.1 61.54L615.52 33.94L615.53 63.9L642.7 63.9" fill="none" stroke="#ff7f0e" stroke-width="1.1" stroke-dasharray="3.52,1.52" stroke-linecap="butt" stroke-linejoin="round" clip-path="url(#iclipc)"/>
<path d="M551.8 62.22L565.44 62.81L574.78 63.62L578.18 64.15L580.72 64.75L582.54 65.45L583.64 66.26L590.06 66.26L590.12 66.67L590.61 66.65L594.67 66.18L598.55 65.31L602.37 63.98L605.75 62.26L608.56 60.23L610.86 57.84L612.54 55.26L613.78 52.32L614.62 48.83L615.17 44.43L615.96 44.45L616.26 46.78L616.64 48.54L617.17 50.14L617.9 51.57L618.63 52.57L619.48 53.43L620.51 54.21L621.66 54.87L623.17 55.54L624.93 56.12L629.3 57.07L635.12 57.83L642.7 58.41" fill="none" stroke="#2ca02c" stroke-width="1.1" stroke-dasharray="0.95,1.57" stroke-linecap="butt" stroke-linejoin="round" clip-path="url(#iclipc)"/>
<path d="M551.8 63.9L584.08 63.9L584.1 65.08L615.52 78.64L615.53 63.9L642.7 63.9" fill="none" stroke="#d62728" stroke-width="1.1" stroke-dasharray="6.08,1.52,0.95,1.52" stroke-linecap="butt" stroke-linejoin="round" clip-path="url(#iclipc)"/>
<rect x="553" y="22.5" width="88.5" height="88.6" fill="none" stroke="#9a9a9a" stroke-width="1.3"/>
<line x1="551.5" y1="34.4" x2="553" y2="34.4" stroke="#9a9a9a" stroke-width="0.6"/>
<text x="550.5" y="36.7" font-size="6.5" text-anchor="end" style="" >5</text>
<line x1="551.5" y1="63.9" x2="553" y2="63.9" stroke="#9a9a9a" stroke-width="0.6"/>
<text x="550.5" y="66.2" font-size="6.5" text-anchor="end" style="" >0</text>
<line x1="551.5" y1="93.4" x2="553" y2="93.4" stroke="#9a9a9a" stroke-width="0.6"/>
<text x="550.5" y="95.7" font-size="6.5" text-anchor="end" style="" >&#8722;5</text>
<line x1="568.35" y1="111.1" x2="568.35" y2="112.6" stroke="#9a9a9a" stroke-width="0.6"/>
<text x="568.35" y="118.4" font-size="6.5" text-anchor="middle" style="" >1.00</text>
<line x1="598.4" y1="111.1" x2="598.4" y2="112.6" stroke="#9a9a9a" stroke-width="0.6"/>
<text x="598.4" y="118.4" font-size="6.5" text-anchor="middle" style="" >1.05</text>
<line x1="628.45" y1="111.1" x2="628.45" y2="112.6" stroke="#9a9a9a" stroke-width="0.6"/>
<text x="628.45" y="118.4" font-size="6.5" text-anchor="middle" style="" >1.10</text>
<text x="552.4" y="22.2" font-size="6.9" style="fill:#333">&#215;10<tspan font-size="5.2" dy="-2.5" dx="0.3">&#8722;4</tspan></text>
<line x1="562.2" y1="144.8" x2="584.1" y2="144.8" stroke="#1f77b4" stroke-width="1.8"  stroke-linecap="butt"/>
<text x="591.7" y="148.7" font-size="10">Re<tspan dx="1.8" font-style="italic" font-size="10.5">&#963;</tspan><tspan font-size="7" dy="-5.1" font-style="italic">x</tspan><tspan font-size="7" font-style="normal" dy="0">,(2</tspan><tspan font-size="7" font-style="italic">&#969;</tspan><tspan font-size="7">)</tspan></text>
<text x="610.2" y="150" font-size="7" font-style="italic">yxx</text>
<line x1="562.2" y1="163.4" x2="584.1" y2="163.4" stroke="#ff7f0e" stroke-width="1.8" stroke-dasharray="5.55,2.4" stroke-linecap="butt"/>
<text x="591.7" y="167.3" font-size="10">Im<tspan dx="1.8" font-style="italic" font-size="10.5">&#963;</tspan><tspan font-size="7" dy="-5.1" font-style="italic">x</tspan><tspan font-size="7" font-style="normal" dy="0">,(2</tspan><tspan font-size="7" font-style="italic">&#969;</tspan><tspan font-size="7">)</tspan></text>
<text x="610.2" y="168.6" font-size="7" font-style="italic">yxx</text>
<line x1="562.2" y1="181.7" x2="584.1" y2="181.7" stroke="#2ca02c" stroke-width="1.8" stroke-dasharray="1.5,2.47" stroke-linecap="butt"/>
<text x="591.7" y="185.6" font-size="10">Re<tspan dx="1.8" font-style="italic" font-size="10.5">&#963;</tspan><tspan font-size="7" dy="-5.1" font-style="italic">y</tspan><tspan font-size="7" font-style="normal" dy="0">,(2</tspan><tspan font-size="7" font-style="italic">&#969;</tspan><tspan font-size="7">)</tspan></text>
<text x="610.2" y="186.9" font-size="7" font-style="italic">xyy</text>
<line x1="562.2" y1="199.7" x2="584.1" y2="199.7" stroke="#d62728" stroke-width="1.8" stroke-dasharray="9.6,2.4,1.5,2.4" stroke-linecap="butt"/>
<text x="591.7" y="203.6" font-size="10">Im<tspan dx="1.8" font-style="italic" font-size="10.5">&#963;</tspan><tspan font-size="7" dy="-5.1" font-style="italic">y</tspan><tspan font-size="7" font-style="normal" dy="0">,(2</tspan><tspan font-size="7" font-style="italic">&#969;</tspan><tspan font-size="7">)</tspan></text>
<text x="610.2" y="204.9" font-size="7" font-style="italic">xyy</text>
<g transform="translate(15.6,111.5) rotate(-90)"><text x="-37" y="0" font-size="12.5" font-style="italic">&#963;</text><text x="-30" y="-8.6" font-size="8" font-style="italic">x</text><text x="-25.8" y="-8.6" font-size="8">,(2</text><text x="-15.6" y="-8.6" font-size="8" font-style="italic">&#969;</text><text x="-10.4" y="-8.6" font-size="8">)</text><text x="-30" y="3.2" font-size="8" font-style="italic">ijk</text><text x="-7.6" y="0" font-size="12.5">(</text><text x="-3.4" y="0" font-size="12.5" font-style="italic">&#969;</text><text x="5.2" y="0" font-size="12.5">)/</text><text x="16.6" y="0" font-size="12.5" font-style="italic">&#963;</text><text x="24" y="2.6" font-size="8">0</text><text x="24" y="-9" font-size="8">(2)</text></g></svg>
</body></html>
